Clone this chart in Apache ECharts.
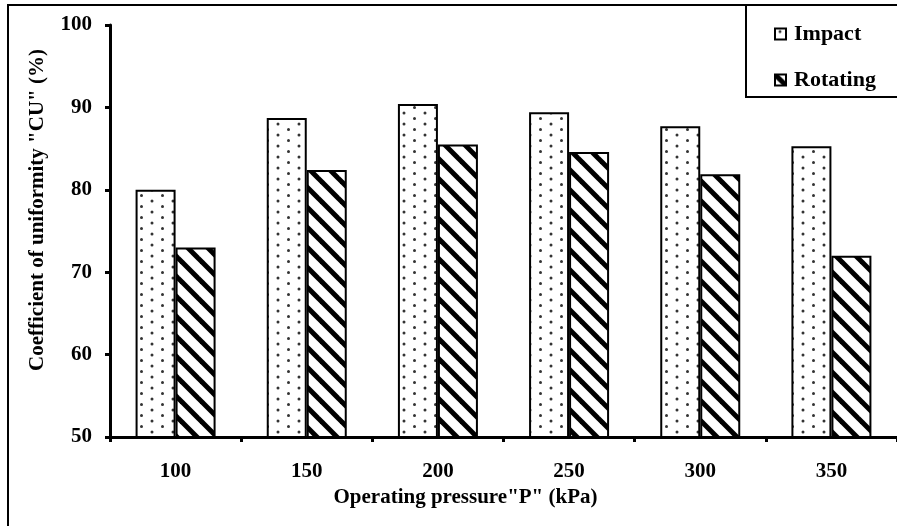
<!DOCTYPE html>
<html>
<head>
<meta charset="utf-8">
<script src="https://cdn.jsdelivr.net/npm/echarts@6/dist/echarts.min.js"></script>
<style>
html,body{margin:0;padding:0;background:#fff;}
#chart{width:897px;height:526px;}
</style>
</head>
<body>
<div id="chart"></div>
<script>
var categories = ['100', '150', '200', '250', '300', '350'];
var impactValues = [80.0, 88.7, 90.4, 89.4, 87.7, 85.3];
var rotatingValues = [73.0, 82.4, 85.5, 84.6, 81.9, 72.0];
var yTicks = [50, 60, 70, 80, 90, 100];

function dotPattern() {
  var c = document.createElement('canvas');
  c.width = 21; c.height = 22;
  var g = c.getContext('2d');
  g.fillStyle = '#fff'; g.fillRect(0, 0, 21, 22);
  g.fillStyle = '#333';
  [[5, 3], [15.5, 8.5], [5, 14], [15.5, 19.5]].forEach(function (p) {
    g.beginPath(); g.arc(p[0], p[1], 1.5, 0, Math.PI * 2); g.fill();
  });
  return c;
}
function stripePattern() {
  var s = 20;
  var c = document.createElement('canvas');
  c.width = s; c.height = s;
  var g = c.getContext('2d');
  g.fillStyle = '#fff'; g.fillRect(0, 0, s, s);
  g.strokeStyle = '#000'; g.lineWidth = 5;
  for (var k = -1; k <= 1; k++) {
    g.beginPath();
    g.moveTo(k * s - 2, -2);
    g.lineTo(k * s + s + 2, s + 2);
    g.stroke();
  }
  return c;
}

var font = 'Liberation Serif';
var chart = echarts.init(document.getElementById('chart'), null, {renderer: 'canvas'});
chart.setOption({
  animation: false,
  backgroundColor: '#fff',
  textStyle: {fontFamily: font, color: '#000', fontWeight: 'bold'},
  grid: {left: 110, top: 25, width: 796, height: 412},
  graphic: [
    {type: 'rect', z: 0, shape: {x: 8, y: 5, width: 900, height: 540},
     style: {fill: 'none', stroke: '#000', lineWidth: 2}},
    {type: 'rect', z: 1, shape: {x: 746, y: 5, width: 200, height: 92},
     style: {fill: '#fff', stroke: '#000', lineWidth: 2}}
  ],
  legend: {
    z: 10,
    orient: 'vertical',
    left: 769, top: 18,
    icon: 'rect',
    itemWidth: 11, itemHeight: 11,
    itemGap: 24,
    textStyle: {fontFamily: font, fontSize: 22, fontWeight: 'bold', color: '#000', padding: [0, 0, 0, 3]},
    data: ['Impact', 'Rotating']
  },
  xAxis: {
    type: 'category',
    data: categories,
    name: 'Operating pressure"P" (kPa)',
    nameLocation: 'middle',
    nameGap: 45,
    nameTextStyle: {fontFamily: font, fontSize: 21, fontWeight: 'bold', color: '#000', padding: [0, 76, 0, 0]},
    axisLine: {lineStyle: {color: '#000', width: 3}},
    axisTick: {show: true, length: 5, lineStyle: {color: '#000', width: 3}},
    axisLabel: {margin: 24, fontFamily: font, fontSize: 21, fontWeight: 'bold', color: '#000'}
  },
  yAxis: {
    type: 'value',
    min: yTicks[0], max: yTicks[yTicks.length - 1], interval: 10,
    name: 'Coefficient of uniformity "CU" (%)',
    nameLocation: 'middle',
    nameGap: 62,
    nameTextStyle: {fontFamily: font, fontSize: 21, fontWeight: 'bold', color: '#000', padding: [0, 0, 0, 42]},
    axisLine: {show: true, lineStyle: {color: '#000', width: 3}},
    axisTick: {show: true, length: 5, lineStyle: {color: '#000', width: 3}},
    axisLabel: {margin: 18, fontFamily: font, fontSize: 21, fontWeight: 'bold', color: '#000'},
    splitLine: {show: false}
  },
  series: [
    {
      name: 'Impact', type: 'bar', data: impactValues,
      barWidth: 40, barGap: '0%',
      itemStyle: {color: {image: dotPattern(), repeat: 'repeat'}, borderColor: '#000', borderWidth: 2}
    },
    {
      name: 'Rotating', type: 'bar', data: rotatingValues,
      barWidth: 40, barGap: '0%',
      itemStyle: {color: {image: stripePattern(), repeat: 'repeat'}, borderColor: '#000', borderWidth: 2}
    }
  ]
});
</script>
</body>
</html>
